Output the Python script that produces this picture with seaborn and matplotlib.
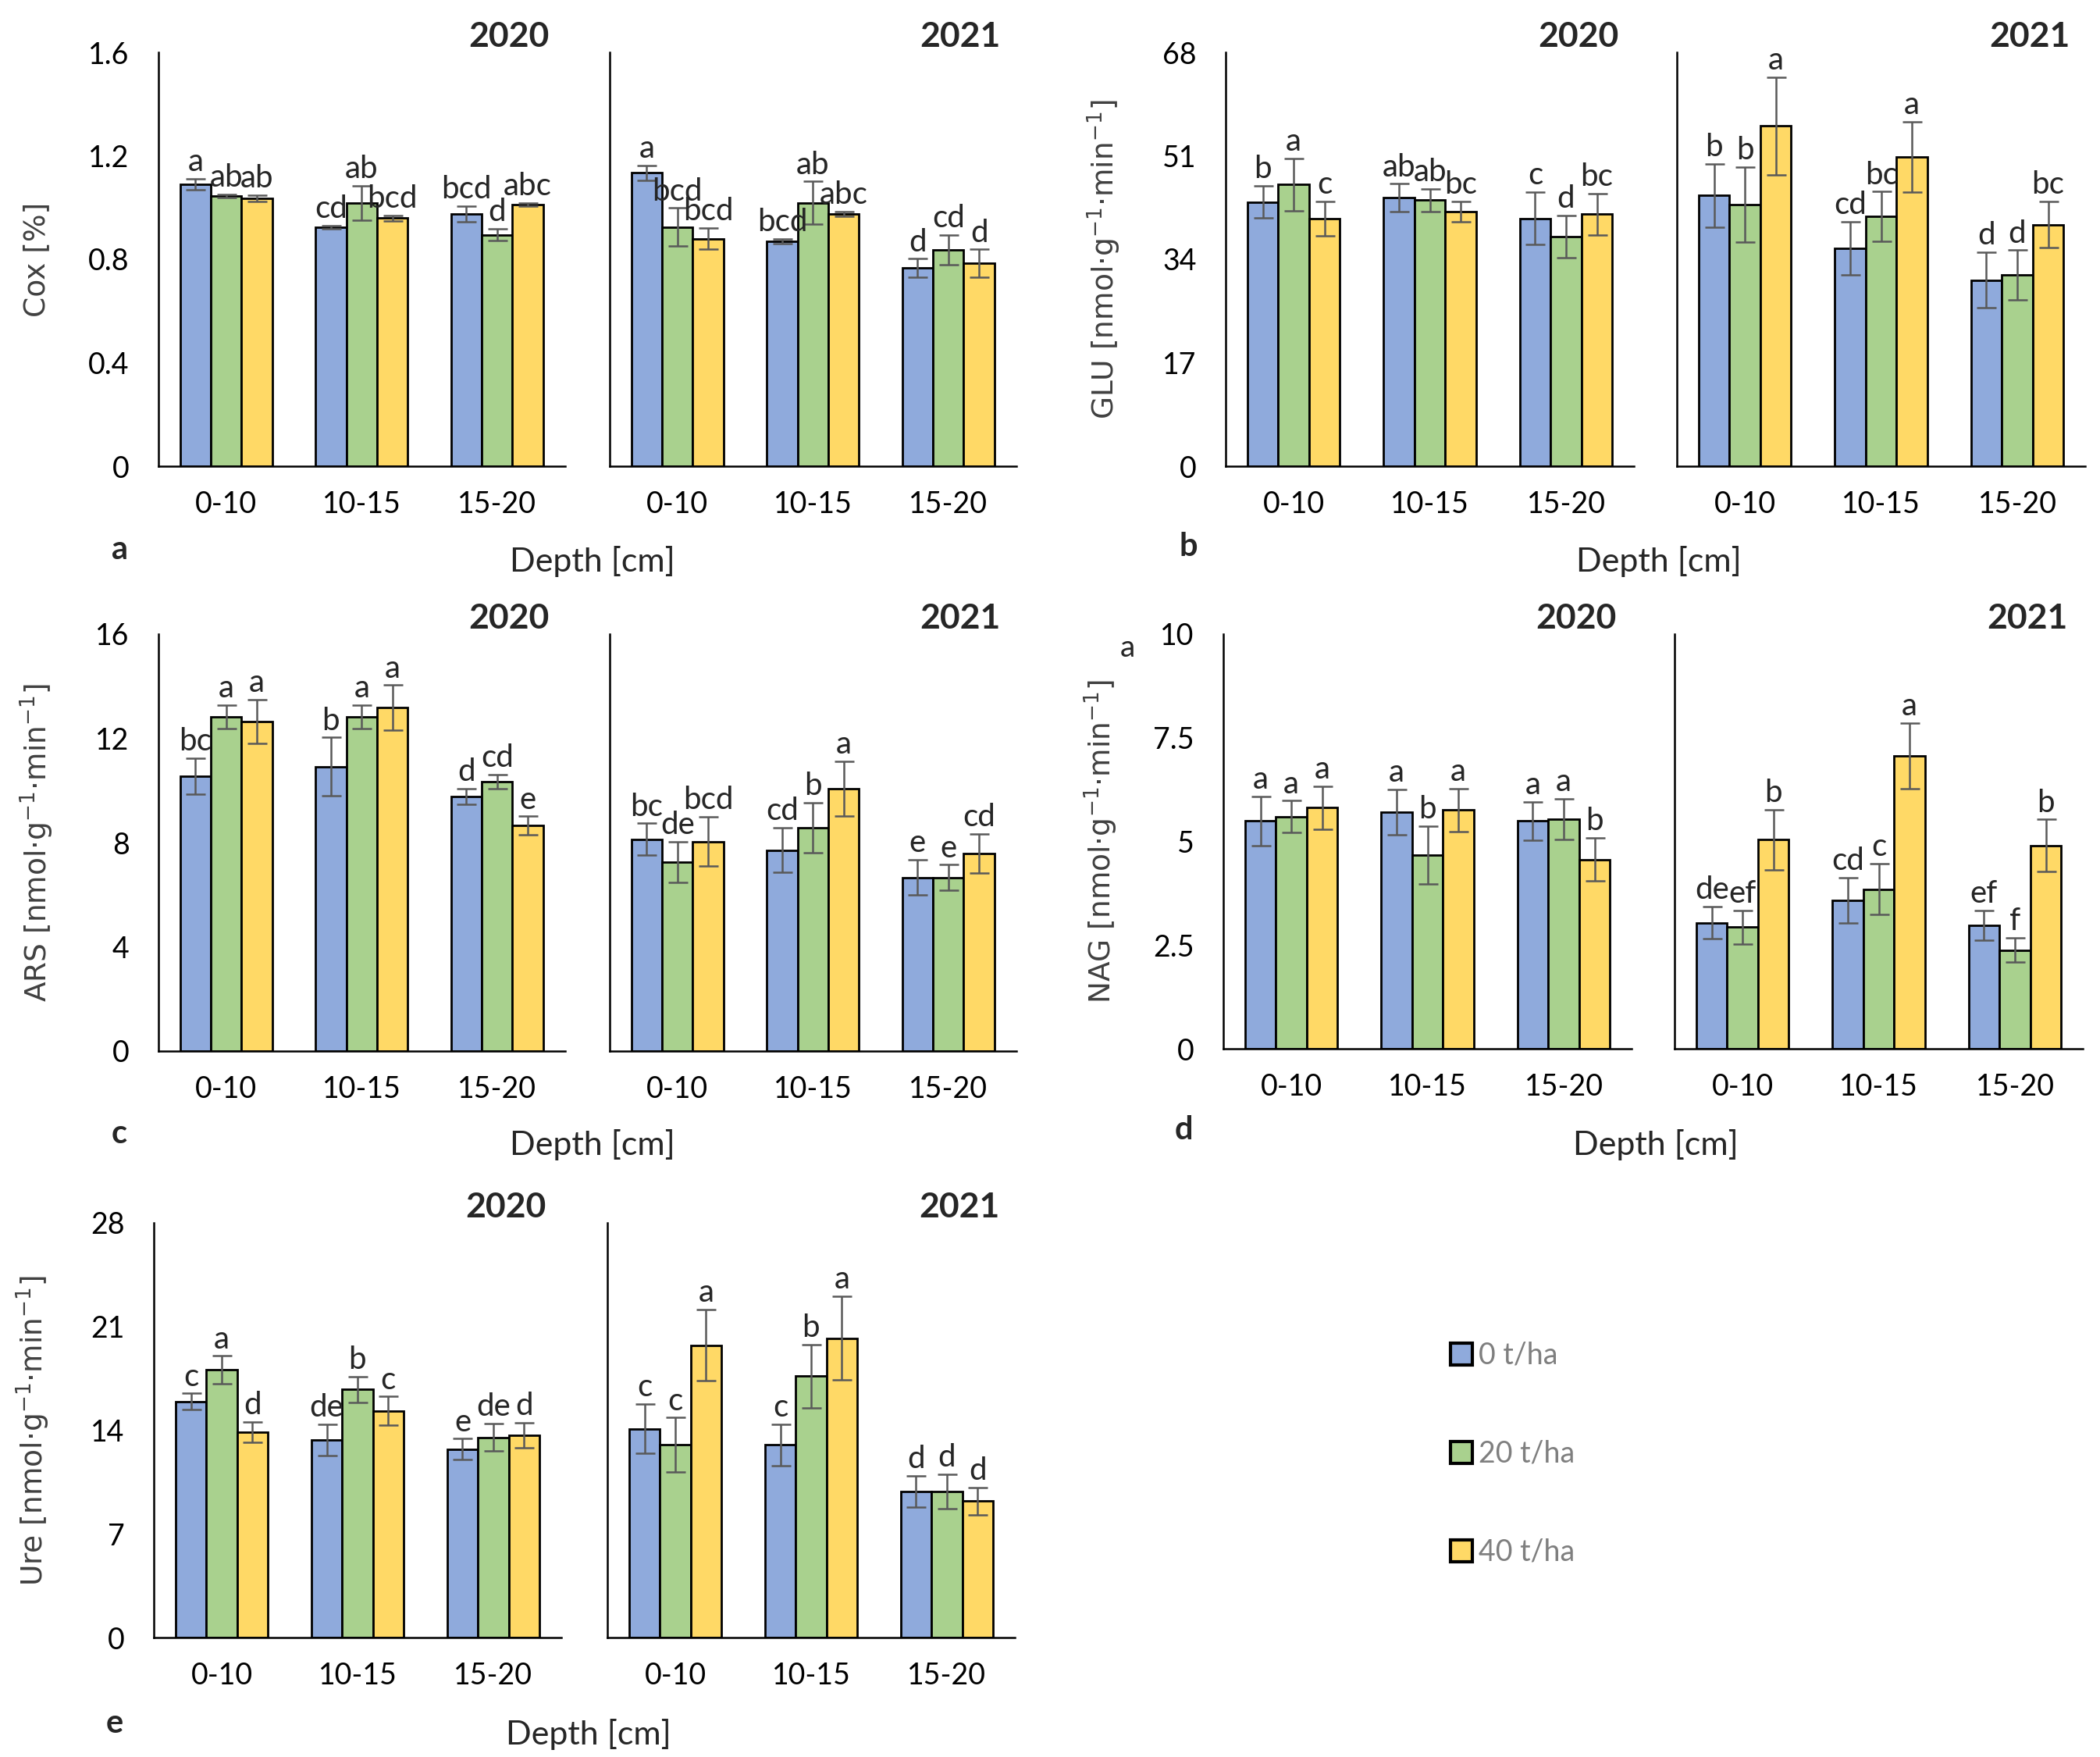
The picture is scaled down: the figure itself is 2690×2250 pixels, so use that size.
import matplotlib
matplotlib.use("Agg")
import pandas as pd
import matplotlib.pyplot as plt
import seaborn as sns
from matplotlib.patches import Patch

DEPTHS = ["0-10", "10-15", "15-20"]
DOSES = ["0 t/ha", "20 t/ha", "40 t/ha"]
COLORS = ["#8FAADC", "#A9D18E", "#FFD966"]

# rows = dose (0, 20, 40 t/ha), columns = depth (0-10, 10-15, 15-20)
cox_2020 = [[1.090, 0.924, 0.975], [1.045, 1.018, 0.895], [1.035, 0.959, 1.011]]
cox_2020_err = [[0.022, 0.005, 0.030], [0.005, 0.067, 0.023], [0.012, 0.011, 0.007]]
cox_2020_let = [["a", "cd", "bcd"], ["ab", "ab", "d"], ["ab", "bcd", "abc"]]
cox_2021 = [[1.134, 0.869, 0.766], [0.924, 1.018, 0.836], [0.880, 0.975, 0.785]]
cox_2021_err = [[0.028, 0.010, 0.036], [0.074, 0.083, 0.058], [0.040, 0.010, 0.053]]
cox_2021_let = [["a", "bcd", "d"], ["bcd", "ab", "cd"], ["bcd", "abc", "d"]]

glu_2020 = [[43.4, 44.1, 40.7], [46.3, 43.7, 37.7], [40.7, 41.8, 41.4]]
glu_2020_err = [[2.65, 2.3, 4.3], [4.3, 1.9, 3.5], [2.8, 1.7, 3.4]]
glu_2020_let = [["b", "ab", "c"], ["a", "ab", "d"], ["c", "bc", "bc"]]
glu_2021 = [[44.5, 35.8, 30.6], [43.0, 41.0, 31.4], [55.9, 50.8, 39.7]]
glu_2021_err = [[5.2, 4.4, 4.6], [6.2, 4.1, 4.1], [8.0, 5.8, 3.8]]
glu_2021_let = [["b", "cd", "d"], ["b", "bc", "d"], ["a", "a", "bc"]]

ars_2020 = [[10.56, 10.91, 9.77], [12.82, 12.82, 10.33], [12.65, 13.18, 8.65]]
ars_2020_err = [[0.69, 1.12, 0.30], [0.46, 0.46, 0.27], [0.83, 0.86, 0.36]]
ars_2020_let = [["bc", "b", "d"], ["a", "a", "cd"], ["a", "a", "e"]]
ars_2021 = [[8.13, 7.71, 6.66], [7.25, 8.57, 6.66], [8.04, 10.06, 7.59]]
ars_2021_err = [[0.61, 0.86, 0.68], [0.78, 0.97, 0.49], [0.95, 1.05, 0.75]]
ars_2021_let = [["bc", "cd", "e"], ["de", "b", "e"], ["bcd", "a", "cd"]]

nag_2020 = [[5.49, 5.71, 5.49], [5.60, 4.67, 5.54], [5.81, 5.76, 4.56]]
nag_2020_err = [[0.60, 0.55, 0.47], [0.38, 0.70, 0.49], [0.52, 0.52, 0.52]]
nag_2020_let = [["a", "a", "a"], ["a", "b", "a"], ["a", "a", "b"]]
nag_2021 = [[3.04, 3.58, 2.97], [2.93, 3.85, 2.38], [5.04, 7.07, 4.90]]
nag_2021_err = [[0.39, 0.54, 0.36], [0.41, 0.61, 0.29], [0.73, 0.79, 0.63]]
nag_2021_let = [["de", "cd", "ef"], ["ef", "c", "f"], ["b", "a", "b"]]

ure_2020 = [[15.95, 13.34, 12.71], [18.07, 16.76, 13.52], [13.85, 15.31, 13.65]]
ure_2020_err = [[0.54, 1.07, 0.71], [0.95, 0.87, 0.92], [0.69, 0.96, 0.86]]
ure_2020_let = [["c", "de", "e"], ["a", "b", "de"], ["d", "c", "d"]]
ure_2021 = [[14.10, 13.01, 9.86], [13.01, 17.64, 9.86], [19.74, 20.22, 9.22]]
ure_2021_err = [[1.68, 1.39, 1.07], [1.84, 2.15, 1.16], [2.40, 2.84, 0.92]]
ure_2021_let = [["c", "c", "d"], ["c", "b", "d"], ["a", "a", "d"]]

cox_ticks = [0, 0.4, 0.8, 1.2, 1.6]
glu_ticks = [0, 17, 34, 51, 68]
ars_ticks = [0, 4, 8, 12, 16]
nag_ticks = [0, 2.5, 5, 7.5, 10]
ure_ticks = [0, 7, 14, 21, 28]

sns.set_style("white")
plt.rcParams["font.family"] = ["Lato", "DejaVu Sans"]
plt.rcParams["mathtext.default"] = "regular"

W, H = 2690, 2250
fig = plt.figure(figsize=(W / 100, H / 100), dpi=100)


def fx(px):
    return px / W


def fy(py):
    return 1 - py / H


def to_frame(mean, err, letters):
    rows = []
    for i, dose in enumerate(DOSES):
        for j, depth in enumerate(DEPTHS):
            rows.append({"depth": depth, "dose": dose, "value": mean[i][j],
                         "err": err[i][j], "letter": letters[i][j]})
    return pd.DataFrame(rows)


def draw_year(ax, df, ticks, year, show_y):
    sns.barplot(data=df, x="depth", y="value", hue="dose", order=DEPTHS,
                hue_order=DOSES, palette=COLORS, saturation=1, width=0.68,
                errorbar=None, edgecolor="black", linewidth=2, legend=False, ax=ax)
    bar_sets = list(ax.containers)
    for k, bars in enumerate(bar_sets):
        sub = df[df["dose"] == DOSES[k]].set_index("depth").loc[DEPTHS]
        xs = [b.get_x() + b.get_width() / 2 for b in bars]
        ax.errorbar(xs, sub["value"], yerr=sub["err"], fmt="none", ecolor="#595959",
                    elinewidth=1.8, capsize=9, capthick=1.8, zorder=3)
        for x, v, e, lab in zip(xs, sub["value"], sub["err"], sub["letter"]):
            ax.annotate(lab, (x, v + e), xytext=(0, 2), textcoords="offset points",
                        ha="center", va="bottom", fontsize=29, zorder=4)
    ax.set_xlim(-0.5, 2.5)
    ax.set_ylim(ticks[0], ticks[-1])
    ax.set_yticks(ticks)
    if show_y:
        ax.set_yticklabels([f"{t:g}" for t in ticks])
    else:
        ax.set_yticklabels([])
    ax.set_xlabel("")
    ax.set_ylabel("")
    ax.tick_params(axis="both", length=0, labelsize=27, colors="black")
    ax.tick_params(axis="y", pad=27)
    ax.tick_params(axis="x", pad=22)
    for s in ["top", "right"]:
        ax.spines[s].set_visible(False)
    for s in ["left", "bottom"]:
        ax.spines[s].set_color("black")
        ax.spines[s].set_linewidth(1.8)
    ax.text(0.962, 1.013, year, transform=ax.transAxes, ha="right", va="baseline",
            fontsize=32, fontweight="bold")


def draw_panel(left20, left21, width, top, bottom, d20, d21, ticks,
               ylabel, ylab_x, letter, letter_xy, depth_xy):
    y0, y1 = fy(bottom), fy(top)
    ax20 = fig.add_axes([fx(left20), y0, width, y1 - y0])
    ax21 = fig.add_axes([fx(left21), y0, width, y1 - y0])
    draw_year(ax20, d20, ticks, "2020", True)
    draw_year(ax21, d21, ticks, "2021", False)
    fig.text(fx(ylab_x), (y0 + y1) / 2, ylabel, rotation=90, ha="center", va="center",
             fontsize=27, color="#404040", family="DejaVu Sans")
    fig.text(fx(letter_xy[0]), fy(letter_xy[1]), letter, ha="center", va="center",
             fontsize=30, fontweight="bold")
    fig.text(fx(depth_xy[0]), fy(depth_xy[1]), "Depth [cm]", ha="center", va="center",
             fontsize=31)


unit = "[nmol·g$^{-1}$·min$^{-1}$]"
draw_panel(203, 781, 0.1935, 67, 597,
           to_frame(cox_2020, cox_2020_err, cox_2020_let),
           to_frame(cox_2021, cox_2021_err, cox_2021_let),
           cox_ticks, "Cox [%]", 47, "a", (153, 704), (759, 719))
draw_panel(1570, 2148, 0.1945, 67, 597,
           to_frame(glu_2020, glu_2020_err, glu_2020_let),
           to_frame(glu_2021, glu_2021_err, glu_2021_let),
           glu_ticks, "GLU " + unit, 1414, "b", (1522, 700), (2125, 719))
draw_panel(203, 781, 0.1935, 812, 1346,
           to_frame(ars_2020, ars_2020_err, ars_2020_let),
           to_frame(ars_2021, ars_2021_err, ars_2021_let),
           ars_ticks, "ARS " + unit, 47, "c", (153, 1452), (759, 1466))
draw_panel(1567, 2145, 0.1945, 812, 1343,
           to_frame(nag_2020, nag_2020_err, nag_2020_let),
           to_frame(nag_2021, nag_2021_err, nag_2021_let),
           nag_ticks, "NAG " + unit, 1410, "d", (1516, 1447), (2121, 1466))
draw_panel(197, 778, 0.194, 1566, 2097,
           to_frame(ure_2020, ure_2020_err, ure_2020_let),
           to_frame(ure_2021, ure_2021_err, ure_2021_let),
           ure_ticks, "Ure " + unit, 42, "e", (147, 2207), (754, 2221))

# stray label next to the NAG axis in the original figure
fig.text(fx(1444), fy(830), "a", ha="center", va="center", fontsize=28)

handles = [Patch(facecolor=c, edgecolor="black", linewidth=3, label=d)
           for c, d in zip(COLORS, DOSES)]
fig.legend(handles=handles, loc="center left", bbox_to_anchor=(fx(1858), fy(1862)),
           frameon=False, fontsize=27, labelcolor="#7f7f7f", handlelength=0.75,
           handleheight=0.75, handletextpad=0.2, labelspacing=2.4, borderpad=0,
           borderaxespad=0)

fig.savefig("out.png", dpi=100, facecolor="white")
